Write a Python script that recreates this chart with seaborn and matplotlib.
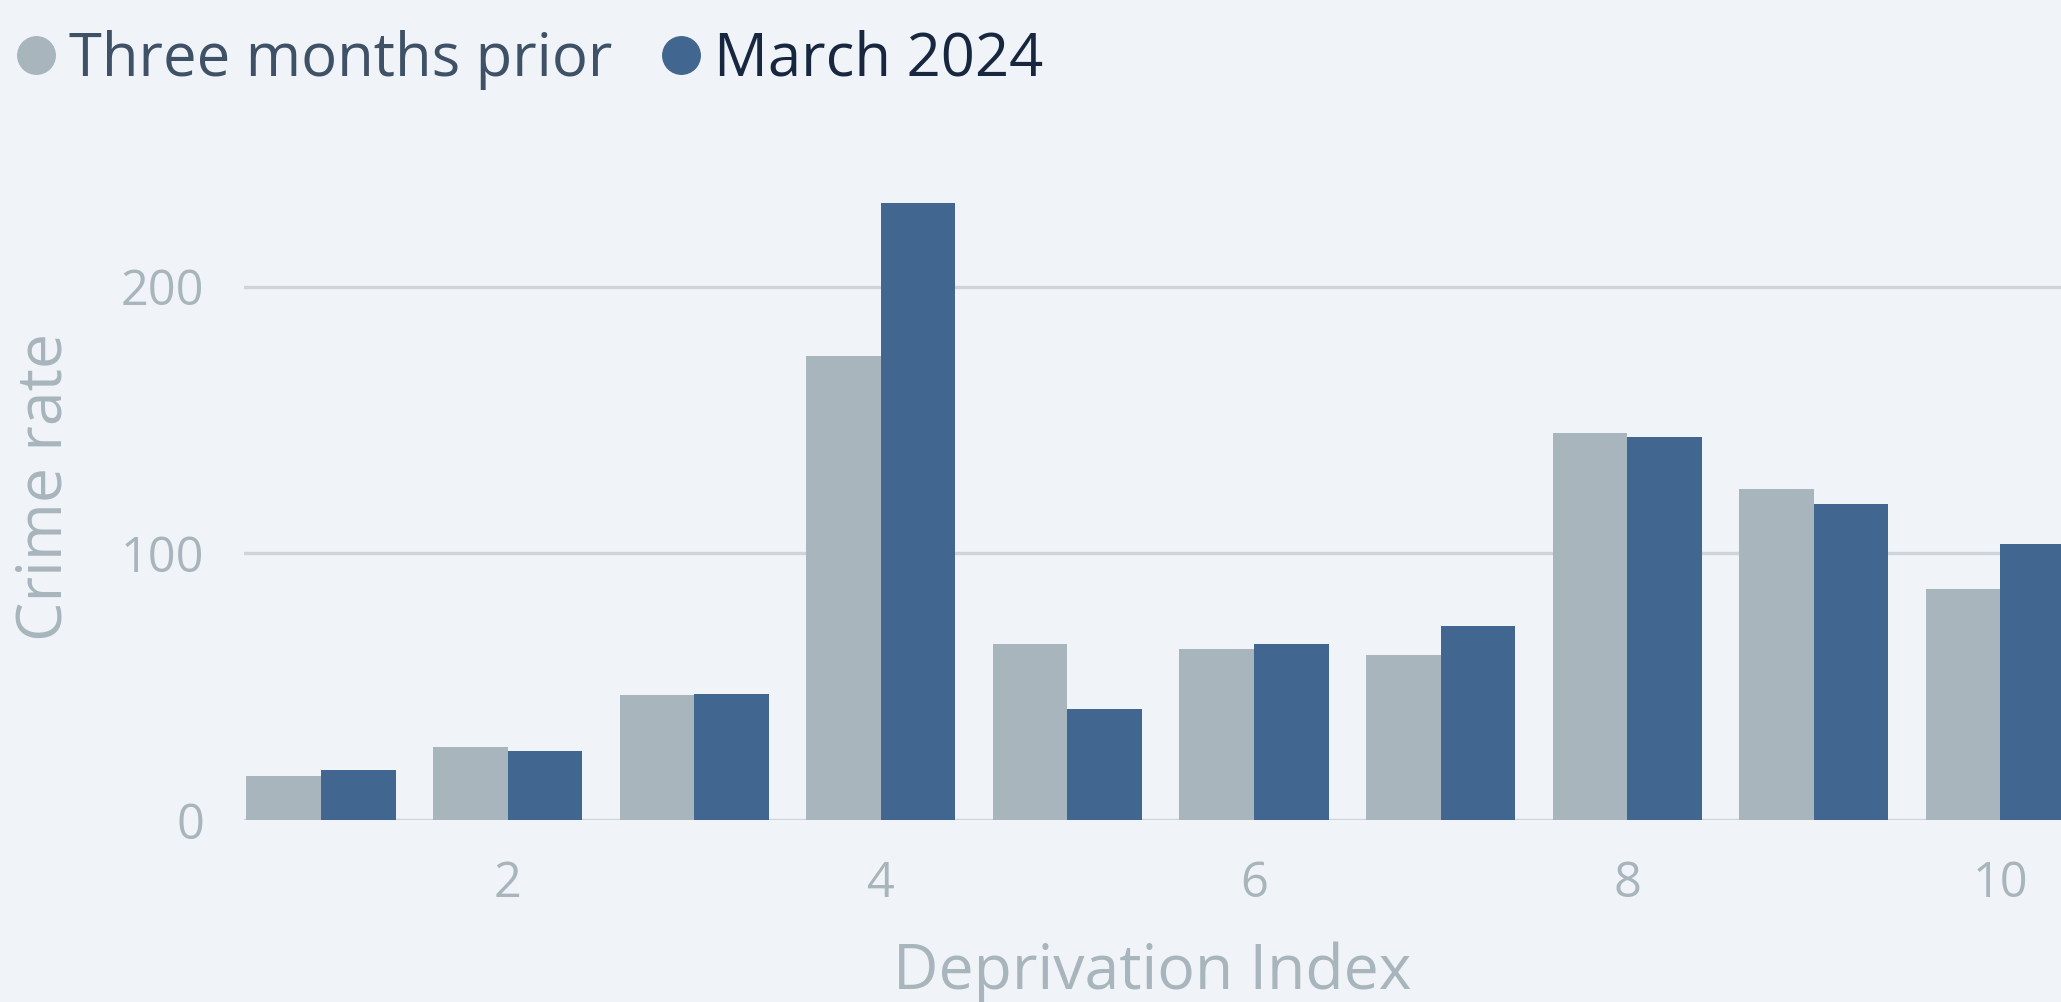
import pandas as pd
import matplotlib.pyplot as plt
import seaborn as sns
from matplotlib.lines import Line2D

# Chart values
deprivation_index = [1, 2, 3, 4, 5, 6, 7, 8, 9, 10]
three_months_prior = [16.6, 27.5, 46.9, 173.9, 66.0, 64.0, 62.1, 145.3, 124.0, 86.5]
march_2024 = [18.8, 25.9, 47.4, 231.2, 41.6, 66.0, 72.9, 143.8, 118.4, 103.7]
series_names = ['Three months prior', 'March 2024']
x_ticks = [2, 4, 6, 8, 10]
y_ticks = [0, 100, 200]

# Long format table for seaborn
df = pd.DataFrame({
    'Deprivation Index': deprivation_index * 2,
    'Crime rate': three_months_prior + march_2024,
    'Period': [series_names[0]] * len(deprivation_index) + [series_names[1]] * len(deprivation_index),
})

bg = '#F0F4F8'
bar_colors = {series_names[0]: '#A8B5BC', series_names[1]: '#41668F'}
text_grey = '#A8B5BC'
grid_color = '#CDD5DB'

sns.set_theme(style='white')
plt.rcParams['font.family'] = ['Open Sans', 'DejaVu Sans']

fig = plt.figure(figsize=(20.61, 10.02), dpi=100, facecolor=bg)
ax = fig.add_axes([0.1186, 0.1814, 0.8814, 0.6657])
ax.set_facecolor(bg)

sns.barplot(data=df, x='Deprivation Index', y='Crime rate', hue='Period',
            native_scale=True, palette=bar_colors, width=0.8, gap=0,
            saturation=1, errorbar=None, legend=False, linewidth=0, ax=ax)

ax.set_xlim(0.59, 10.325)
ax.set_ylim(0, 250)
ax.set_xticks(x_ticks)
ax.set_yticks(y_ticks)
ax.set_xticklabels([str(t) for t in x_ticks])
ax.set_yticklabels([str(t) for t in y_ticks])

for side in ['top', 'right', 'left', 'bottom']:
    ax.spines[side].set_visible(False)

ax.set_axisbelow(True)
ax.grid(axis='y', color=grid_color, linewidth=2.4)
ax.grid(axis='x', visible=False)

ax.tick_params(axis='both', length=0, labelsize=35, labelcolor=text_grey)
ax.tick_params(axis='y', pad=29)
ax.tick_params(axis='x', pad=28)

ax.set_xlabel('Deprivation Index', fontsize=45, color=text_grey, labelpad=24)
ax.set_ylabel('Crime rate', fontsize=45, color=text_grey, labelpad=32)

# Legend with round markers
handles = [
    Line2D([], [], marker='o', linestyle='', markersize=27, color=bar_colors[name], label=name)
    for name in series_names
]
leg = fig.legend(handles=handles, loc='upper left', bbox_to_anchor=(-0.013, 1.012),
                 ncol=2, frameon=False, fontsize=43, handlelength=0.7,
                 handletextpad=0.2, columnspacing=0.8, borderpad=0.2)
legend_text_colors = ['#3E5166', '#16273F']
for txt, c in zip(leg.get_texts(), legend_text_colors):
    txt.set_color(c)

plt.savefig('out.png', dpi=100, facecolor=bg)
